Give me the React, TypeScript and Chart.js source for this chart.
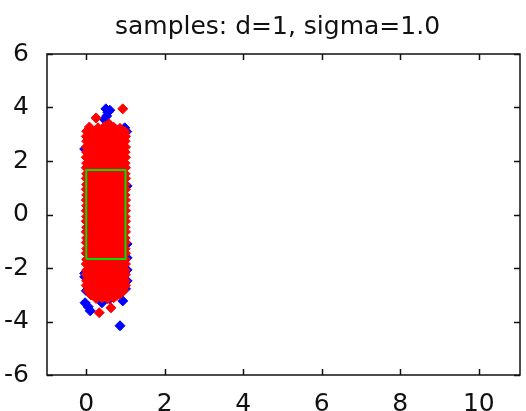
import React, { useEffect, useRef } from "react";
import { Chart, registerables } from "chart.js";
Chart.register(...registerables);

const titleText = "samples: d=1, sigma=1.0";
const xTickValues = [0, 2, 4, 6, 8, 10];
const yTickValues = [-6, -4, -2, 0, 2, 4, 6];
const boxX = [0, 1, 1, 0, 0];
const boxY = [-1.66, -1.66, 1.66, 1.66, -1.66];

const bluePts: [number, number][] = [
  [0.5, 3.95], [0.55, 3.82], [0.6, 3.9], [0.52, 3.68], [0.46, 3.55], [0.98, 3.24], [0.4, 3.13],
  [0.23, 2.72], [-0.04, 2.45], [1.04, 1.07], [1.04, -1.1], [1.04, -1.62], [1.04, -2.07], [1.04, -2.48],
  [-0.04, -2.2], [-0.04, -2.33], [-0.03, -3.3], [0.1, -3.6], [0.4, -3.3], [0.93, -3.23], [0.86, -4.16],
  [0.0, -2.85], [1.0, -2.78], [0.6, -3.15], [0.05, -3.45], [1.03, 3.1], [0.3, 0.5], [0.7, -1.2], [0.5, 1.8],
];

const redPts: [number, number][] = [
  [0.01,3.11],[0.12,3.13],[0.22,3.12],[0.34,3.14],[0.44,3.11],[0.55,3.12],[0.67,3.13],[0.78,3.11],[0.89,3.12],[0.99,3.09],
  [0.00,2.92],[0.11,2.94],[0.23,2.93],[0.33,2.92],[0.45,2.94],[0.56,2.93],[0.66,2.92],[0.79,2.94],[0.90,2.93],[1.00,2.92],
  [0.01,2.74],[0.12,2.72],[0.22,2.73],[0.34,2.74],[0.44,2.72],[0.55,2.73],[0.67,2.74],[0.78,2.72],[0.89,2.73],[0.99,2.74],
  [0.00,2.52],[0.11,2.53],[0.23,2.54],[0.33,2.52],[0.45,2.53],[0.56,2.54],[0.66,2.52],[0.79,2.53],[0.90,2.54],[1.00,2.52],
  [0.01,2.33],[0.12,2.35],[0.22,2.34],[0.34,2.33],[0.44,2.35],[0.55,2.34],[0.67,2.33],[0.78,2.35],[0.89,2.34],[0.99,2.33],
  [0.00,2.14],[0.11,2.12],[0.23,2.13],[0.33,2.14],[0.45,2.12],[0.56,2.13],[0.66,2.14],[0.79,2.12],[0.90,2.13],[1.00,2.14],
  [0.01,1.92],[0.12,1.94],[0.22,1.93],[0.34,1.92],[0.44,1.94],[0.55,1.93],[0.67,1.92],[0.78,1.94],[0.89,1.93],[0.99,1.92],
  [0.00,1.75],[0.11,1.73],[0.23,1.74],[0.33,1.75],[0.45,1.73],[0.56,1.74],[0.66,1.75],[0.79,1.73],[0.90,1.74],[1.00,1.75],
  [0.01,1.52],[0.12,1.54],[0.22,1.53],[0.34,1.52],[0.44,1.54],[0.55,1.53],[0.67,1.52],[0.78,1.54],[0.89,1.53],[0.99,1.52],
  [0.00,1.35],[0.11,1.33],[0.23,1.34],[0.33,1.35],[0.45,1.33],[0.56,1.34],[0.66,1.35],[0.79,1.33],[0.90,1.34],[1.00,1.35],
  [0.01,1.12],[0.12,1.14],[0.22,1.13],[0.34,1.12],[0.44,1.14],[0.55,1.13],[0.67,1.12],[0.78,1.14],[0.89,1.13],[0.99,1.12],
  [0.00,0.94],[0.11,0.92],[0.23,0.93],[0.33,0.94],[0.45,0.92],[0.56,0.93],[0.66,0.94],[0.79,0.92],[0.90,0.93],[1.00,0.94],
  [0.01,0.73],[0.12,0.75],[0.22,0.74],[0.34,0.73],[0.44,0.75],[0.55,0.74],[0.67,0.73],[0.78,0.75],[0.89,0.74],[0.99,0.73],
  [0.00,0.54],[0.11,0.52],[0.23,0.53],[0.33,0.54],[0.45,0.52],[0.56,0.53],[0.66,0.54],[0.79,0.52],[0.90,0.53],[1.00,0.54],
  [0.01,0.33],[0.12,0.35],[0.22,0.34],[0.34,0.33],[0.44,0.35],[0.55,0.34],[0.67,0.33],[0.78,0.35],[0.89,0.34],[0.99,0.33],
  [0.00,0.14],[0.11,0.12],[0.23,0.13],[0.33,0.14],[0.45,0.12],[0.56,0.13],[0.66,0.14],[0.79,0.12],[0.90,0.13],[1.00,0.14],
  [0.01,-0.08],[0.12,-0.06],[0.22,-0.07],[0.34,-0.08],[0.44,-0.06],[0.55,-0.07],[0.67,-0.08],[0.78,-0.06],[0.89,-0.07],[0.99,-0.08],
  [0.00,-0.25],[0.11,-0.27],[0.23,-0.26],[0.33,-0.25],[0.45,-0.27],[0.56,-0.26],[0.66,-0.25],[0.79,-0.27],[0.90,-0.26],[1.00,-0.25],
  [0.01,-0.48],[0.12,-0.46],[0.22,-0.47],[0.34,-0.48],[0.44,-0.46],[0.55,-0.47],[0.67,-0.48],[0.78,-0.46],[0.89,-0.47],[0.99,-0.48],
  [0.00,-0.65],[0.11,-0.67],[0.23,-0.66],[0.33,-0.65],[0.45,-0.67],[0.56,-0.66],[0.66,-0.65],[0.79,-0.67],[0.90,-0.66],[1.00,-0.65],
  [0.01,-0.88],[0.12,-0.86],[0.22,-0.87],[0.34,-0.88],[0.44,-0.86],[0.55,-0.87],[0.67,-0.88],[0.78,-0.86],[0.89,-0.87],[0.99,-0.88],
  [0.00,-1.05],[0.11,-1.07],[0.23,-1.06],[0.33,-1.05],[0.45,-1.07],[0.56,-1.06],[0.66,-1.05],[0.79,-1.07],[0.90,-1.06],[1.00,-1.05],
  [0.01,-1.28],[0.12,-1.26],[0.22,-1.27],[0.34,-1.28],[0.44,-1.26],[0.55,-1.27],[0.67,-1.28],[0.78,-1.26],[0.89,-1.27],[0.99,-1.28],
  [0.00,-1.45],[0.11,-1.47],[0.23,-1.46],[0.33,-1.45],[0.45,-1.47],[0.56,-1.46],[0.66,-1.45],[0.79,-1.47],[0.90,-1.46],[1.00,-1.45],
  [0.01,-1.68],[0.12,-1.66],[0.22,-1.67],[0.34,-1.68],[0.44,-1.66],[0.55,-1.67],[0.67,-1.68],[0.78,-1.66],[0.89,-1.67],[0.99,-1.68],
  [0.00,-1.85],[0.11,-1.87],[0.23,-1.86],[0.33,-1.85],[0.45,-1.87],[0.56,-1.86],[0.66,-1.85],[0.79,-1.87],[0.90,-1.86],[1.00,-1.85],
  [0.01,-2.08],[0.12,-2.06],[0.22,-2.07],[0.34,-2.08],[0.44,-2.06],[0.55,-2.07],[0.67,-2.08],[0.78,-2.06],[0.89,-2.07],[0.99,-2.08],
  [0.00,-2.25],[0.11,-2.27],[0.23,-2.26],[0.33,-2.25],[0.45,-2.27],[0.56,-2.26],[0.66,-2.25],[0.79,-2.27],[0.90,-2.26],[1.00,-2.25],
  [0.01,-2.48],[0.12,-2.46],[0.22,-2.47],[0.34,-2.48],[0.44,-2.46],[0.55,-2.47],[0.67,-2.48],[0.78,-2.46],[0.89,-2.47],[0.99,-2.48],
  [0.00,-2.65],[0.11,-2.67],[0.23,-2.66],[0.33,-2.65],[0.45,-2.67],[0.56,-2.66],[0.66,-2.65],[0.79,-2.67],[0.90,-2.66],[1.00,-2.65],
  [0.04,-2.84],[0.14,-2.86],[0.24,-2.85],[0.35,-2.84],[0.46,-2.86],[0.57,-2.85],[0.68,-2.84],[0.79,-2.86],[0.89,-2.85],[0.96,-2.83],
  [0.12,-3.01],[0.22,-2.99],[0.33,-3.02],[0.44,-3.0],[0.55,-3.01],[0.66,-2.99],[0.77,-3.02],[0.86,-2.98],
  [0.25,-3.14],[0.4,-3.12],[0.55,-3.15],[0.7,-3.11],
  [0.08,3.27],[0.3,3.24],[0.47,3.3],[0.7,3.26],[0.86,3.22],
  [0.33,-3.67],[0.63,-3.49],[0.25,3.61],[0.93,3.95],[0.58,3.39],
];

const FONT = '"DejaVu Sans", sans-serif';
const INK = "#111";

const framePlugin = {
  id: "frame",
  afterDatasetsDraw(chart: any) {
    const { ctx, chartArea: a, scales } = chart;
    const sx = scales.x, sy = scales.y;
    ctx.save();
    ctx.strokeStyle = INK;
    ctx.lineWidth = 1.5;
    ctx.strokeRect(a.left, a.top, a.right - a.left, a.bottom - a.top);
    const L = 6;
    ctx.beginPath();
    xTickValues.forEach((v) => {
      const p = Math.round(sx.getPixelForValue(v)) + 0.5;
      ctx.moveTo(p, a.bottom); ctx.lineTo(p, a.bottom - L);
      ctx.moveTo(p, a.top); ctx.lineTo(p, a.top + L);
    });
    yTickValues.forEach((v) => {
      const p = Math.round(sy.getPixelForValue(v)) + 0.5;
      ctx.moveTo(a.left, p); ctx.lineTo(a.left + L, p);
      ctx.moveTo(a.right, p); ctx.lineTo(a.right - L, p);
    });
    ctx.stroke();
    ctx.fillStyle = INK;
    ctx.font = "25px " + FONT;
    ctx.textAlign = "center";
    ctx.textBaseline = "alphabetic";
    ctx.fillText(titleText, (a.left + a.right) / 2 - 6, 34);
    ctx.restore();
  },
};

export default function App() {
  const ref = useRef<HTMLCanvasElement>(null);
  useEffect(() => {
    document.body.style.margin = "0";
    const chart = new Chart(ref.current!, {
      type: "scatter",
      data: {
        datasets: [
          {
            label: "box",
            data: boxX.map((x, i) => ({ x, y: boxY[i] })),
            showLine: true,
            borderColor: "#00e000",
            borderWidth: 2,
            pointRadius: 0,
            fill: false,
            order: 0,
          },
          {
            label: "red",
            data: redPts.map(([x, y]) => ({ x, y })),
            pointStyle: "rectRot",
            pointRadius: 5,
            backgroundColor: "#ff0000",
            borderColor: "#ff0000",
            borderWidth: 1,
            order: 1,
          },
          {
            label: "blue",
            data: bluePts.map(([x, y]) => ({ x, y })),
            pointStyle: "rectRot",
            pointRadius: 5,
            backgroundColor: "#0000ff",
            borderColor: "#0000ff",
            borderWidth: 1,
            order: 2,
          },
        ],
      },
      options: {
        animation: false,
        responsive: false,
        events: [],
        layout: { padding: { top: 54, right: 2, left: 0, bottom: 0 } },
        plugins: { legend: { display: false }, tooltip: { enabled: false }, title: { display: false } },
        scales: {
          x: {
            type: "linear",
            min: -1,
            max: 11.05,
            grid: { display: false },
            border: { display: false },
            afterBuildTicks: (s: any) => { s.ticks = xTickValues.map((value) => ({ value })); },
            afterFit: (s: any) => { s.height = 36; },
            ticks: { color: INK, font: { family: FONT, size: 25 }, padding: 6, maxRotation: 0, autoSkip: false },
          },
          y: {
            type: "linear",
            min: -6,
            max: 6,
            grid: { display: false },
            border: { display: false },
            afterBuildTicks: (s: any) => { s.ticks = yTickValues.map((value) => ({ value })); },
            afterFit: (s: any) => { s.width = 47; },
            ticks: { color: INK, font: { family: FONT, size: 25 }, padding: 10, autoSkip: false },
          },
        },
      },
      plugins: [framePlugin],
    } as any);
    return () => chart.destroy();
  }, []);
  return (
    <div style={{ position: "absolute", left: 0, top: 0, width: 526, height: 411 }}>
      <canvas ref={ref} width={526} height={411} style={{ display: "block" }} />
    </div>
  );
}
